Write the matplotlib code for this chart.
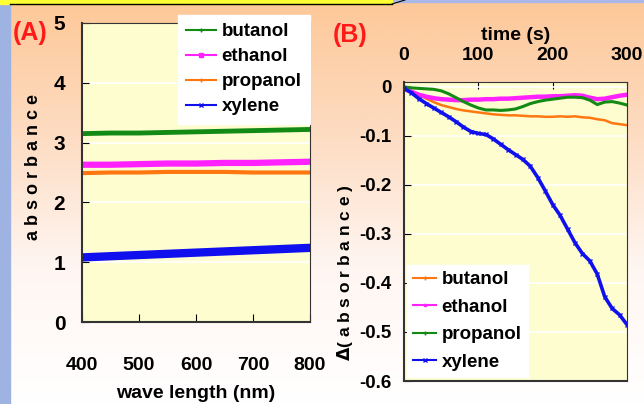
import numpy as np
import matplotlib.pyplot as plt
from matplotlib.colors import LinearSegmentedColormap
from matplotlib import font_manager

# pick a narrow bold sans if present
names = {f.name for f in font_manager.fontManager.ttflist}
fam = 'Liberation Sans Narrow' if 'Liberation Sans Narrow' in names else 'Liberation Sans'
plt.rcParams['font.family'] = [fam, 'DejaVu Sans']
plt.rcParams['font.weight'] = 'bold'

# (A) absorbance vs wave length
wave = [400, 450, 500, 550, 600, 650, 700, 750, 800]
abs_butanol = [3.15, 3.16, 3.16, 3.17, 3.18, 3.19, 3.20, 3.21, 3.22]
abs_ethanol = [2.63, 2.63, 2.64, 2.65, 2.65, 2.66, 2.66, 2.67, 2.68]
abs_propanol = [2.49, 2.50, 2.50, 2.51, 2.51, 2.51, 2.50, 2.50, 2.50]
abs_xylene = [1.08, 1.10, 1.12, 1.14, 1.16, 1.18, 1.20, 1.22, 1.24]

# (B) change of absorbance vs time
time_s = [0, 10, 20, 30, 40, 50, 60, 70, 80, 90, 100, 110, 120, 130, 140, 150,
          160, 170, 180, 190, 200, 210, 220, 230, 240, 250, 260, 270, 280, 290, 300]
d_butanol = [0.000, -0.008, -0.016, -0.024, -0.031, -0.037, -0.041, -0.045, -0.048, -0.050, -0.052,
             -0.054, -0.056, -0.057, -0.058, -0.058, -0.059, -0.060, -0.060, -0.061, -0.061,
             -0.060, -0.061, -0.060, -0.062, -0.063, -0.066, -0.068, -0.074, -0.076, -0.078]
d_ethanol = [-0.004, -0.010, -0.016, -0.020, -0.023, -0.025, -0.026, -0.027, -0.027, -0.026, -0.026,
             -0.025, -0.025, -0.024, -0.024, -0.023, -0.022, -0.021, -0.020, -0.020, -0.019,
             -0.019, -0.018, -0.017, -0.018, -0.022, -0.025, -0.024, -0.021, -0.018, -0.016]
d_propanol = [0.000, -0.002, -0.003, -0.004, -0.005, -0.008, -0.014, -0.022, -0.030, -0.037, -0.043,
              -0.047, -0.047, -0.048, -0.047, -0.045, -0.040, -0.034, -0.030, -0.027, -0.025,
              -0.023, -0.021, -0.021, -0.022, -0.027, -0.036, -0.031, -0.030, -0.033, -0.037]
d_xylene = [-0.003, -0.012, -0.024, -0.034, -0.043, -0.052, -0.061, -0.071, -0.082, -0.091, -0.095,
            -0.097, -0.106, -0.117, -0.128, -0.138, -0.148, -0.162, -0.185, -0.212, -0.240,
            -0.262, -0.290, -0.318, -0.340, -0.355, -0.382, -0.428, -0.452, -0.465, -0.485]

fig = plt.figure(figsize=(6.44, 4.04), dpi=100)

# background: peach to white gradient, blue strip on the left, yellow banner on top
bg = fig.add_axes([0, 0, 1, 1], zorder=-10)
cmap = LinearSegmentedColormap.from_list('bg', ['#fdc898', '#fddcc2', '#fff6f2', '#ffffff'])
bg.imshow(np.linspace(0, 1, 256).reshape(-1, 1), aspect='auto', cmap=cmap,
          extent=[0, 644, 404, 0])
bg.fill_between([0, 10], 0, 404, color='#9fb3e3')
bg.fill_between([0, 644], 0, 1.5, color='#a9b8e6')
bg.fill_between([0, 392], 0, 4, color='#ffff33')
bg.plot([10, 392], [4, 4], color='black', lw=1)
bg.plot([392, 405], [4, 0], color='black', lw=0.8)
bg.set_xlim(0, 644)
bg.set_ylim(404, 0)
bg.axis('off')

ax_bg = '#fefdd0'


def style_axes(ax):
    ax.set_facecolor(ax_bg)
    ax.grid(axis='y', color='white', lw=1.2)
    ax.set_axisbelow(True)
    for s in ax.spines.values():
        s.set_color('#333333')
        s.set_linewidth(0.8)
    ax.spines['left'].set_linewidth(1.5)
    ax.spines['bottom'].set_linewidth(1.5)


# ---- panel A ----
axA = fig.add_axes([82 / 644, 1 - 322 / 404, 228 / 644, 299 / 404])
style_axes(axA)
axA.plot(wave, abs_butanol, color='#138a13', lw=3.5)
axA.plot(wave, abs_ethanol, color='#ff22ff', lw=4.5)
axA.plot(wave, abs_propanol, color='#ff7711', lw=3)
axA.plot(wave, abs_xylene, color='#1010ee', lw=6)
axA.set_xlim(400, 800)
axA.set_ylim(0, 5)
axA.set_xticks([400, 500, 600, 700, 800])
axA.set_yticks([0, 1, 2, 3, 4, 5])
axA.tick_params(axis='x', direction='in', length=6, pad=25, labelsize=14)
axA.tick_params(axis='y', direction='in', length=5, pad=12, labelsize=15)
axA.set_xlabel('wave length (nm)', fontsize=14, fontweight='bold', labelpad=8)
axA.set_ylabel('a b s o r b a n c e', fontsize=13, fontweight='bold')
axA.yaxis.set_label_coords(-40 / 228, 0.52)
legA = axA.legend(
    [plt.Line2D([], [], color='#138a13', marker='+', ms=3),
     plt.Line2D([], [], color='#ff22ff', marker='s', ms=3),
     plt.Line2D([], [], color='#ff7711', marker='+', ms=3),
     plt.Line2D([], [], color='#1010ee', marker='x', ms=3)],
    ['butanol', 'ethanol', 'propanol', 'xylene'],
    loc='upper right', bbox_to_anchor=(1.0, 1.027), borderaxespad=0,
    fontsize=13.5, frameon=True, fancybox=False, framealpha=1, edgecolor='white',
    handlelength=1.6, handletextpad=0.3, labelspacing=0.42, borderpad=0.45)
fig.text(13 / 644, 1 - 33 / 404, '(A)', color='#ff1a1a', fontsize=18,
         fontweight='bold', va='center')

# ---- panel B ----
axB = fig.add_axes([404 / 644, 1 - 381 / 404, 223 / 644, 299 / 404])
style_axes(axB)
axB.plot(time_s, d_butanol, color='#ff7711', lw=1.8)
axB.plot(time_s, d_ethanol, color='#ff22ff', lw=3.2)
axB.plot(time_s, d_propanol, color='#138a13', lw=2.2)
axB.plot(time_s, d_xylene, color='#1010ee', lw=2.6, marker='x', ms=3, mew=1)
axB.set_xlim(0, 300)
axB.set_ylim(-0.6, 0.01)
axB.set_xticks([0, 100, 200, 300])
axB.set_yticks([0, -0.1, -0.2, -0.3, -0.4, -0.5, -0.6])
axB.set_yticklabels(['0', '-0.1', '-0.2', '-0.3', '-0.4', '-0.5', '-0.6'])
axB.xaxis.tick_top()
axB.xaxis.set_label_position('top')
axB.tick_params(axis='x', direction='in', length=5, pad=13, labelsize=14)
axB.tick_params(axis='y', direction='in', length=5, pad=9, labelsize=13.5)
axB.set_xlabel('time (s)', fontsize=14, fontweight='bold', labelpad=5)
axB.set_ylabel('$\\mathit{\\Delta}$( a b s o r b a n c e )', fontsize=12.5, fontweight='bold')
axB.yaxis.set_label_coords(-49 / 223, 0.363)
legB = axB.legend(
    [plt.Line2D([], [], color='#ff7711', marker='+', ms=3),
     plt.Line2D([], [], color='#ff22ff', marker='s', ms=2),
     plt.Line2D([], [], color='#138a13', marker='+', ms=3),
     plt.Line2D([], [], color='#1010ee', marker='x', ms=3)],
    ['butanol', 'ethanol', 'propanol', 'xylene'],
    loc='lower left', bbox_to_anchor=(0.013, 0.013), borderaxespad=0,
    fontsize=13.5, frameon=True, fancybox=False, framealpha=1, edgecolor='white',
    handlelength=1.2, handletextpad=0.3, labelspacing=0.55, borderpad=0.35)
fig.text(333 / 644, 1 - 35 / 404, '(B)', color='#ff1a1a', fontsize=18,
         fontweight='bold', va='center')

fig.savefig('out.png', dpi=100)
